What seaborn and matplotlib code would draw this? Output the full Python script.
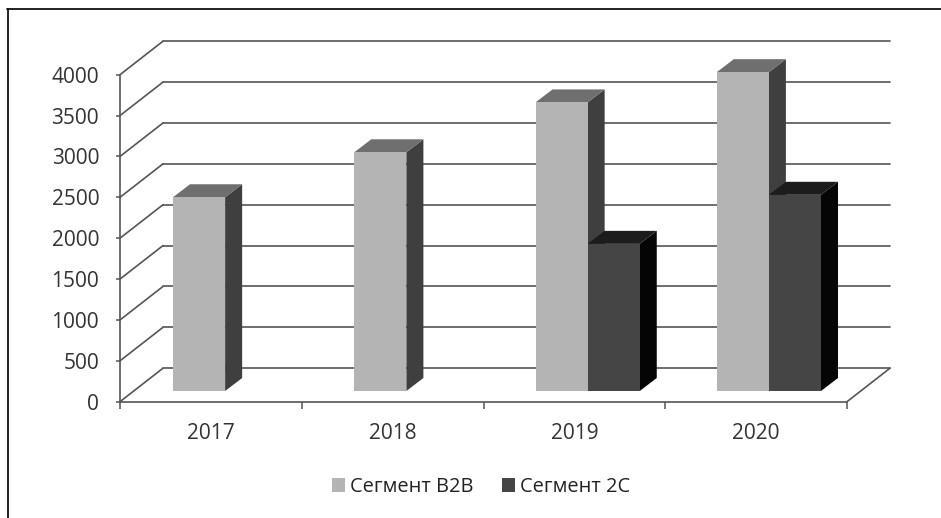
import numpy as np
import pandas as pd
import matplotlib
matplotlib.use("Agg")
import matplotlib.pyplot as plt
from matplotlib.lines import Line2D
from matplotlib.patches import Polygon
import seaborn as sns

years = ["2017", "2018", "2019", "2020"]
b2b = [2370, 2920, 3530, 3900]
b2c = [np.nan, np.nan, 1800, 2400]
series_names = ["Сегмент В2В", "Сегмент 2С"]
y_ticks = [0, 500, 1000, 1500, 2000, 2500, 3000, 3500, 4000]

front_colors = ["#b4b4b4", "#454545"]
side_colors = ["#3f3f3f", "#050505"]
top_colors = ["#6f6f6f", "#1c1c1c"]
line_color = "#555555"
text_color = "#333333"

W, H = 941, 518

sns.set_theme(style="white")
plt.rcParams["font.family"] = ["Open Sans", "DejaVu Sans"]

df = pd.DataFrame({
    "year": years * 2,
    "series": [series_names[0]] * 4 + [series_names[1]] * 4,
    "value": b2b + b2c,
})


def px_axes(fig, left, right, top, bottom):
    return fig.add_axes([left / W, 1 - bottom / H, (right - left) / W, (bottom - top) / H])


fig = plt.figure(figsize=(W / 100, H / 100), dpi=100, facecolor="white")

# Front plane: axes, ticks and the wire frame of the 3D box
ax_f = px_axes(fig, 120, 847, 74.7, 401.7)
ax_f.set_xlim(-0.5, 3.5)
ax_f.set_ylim(0, 4000)
ax_f.patch.set_visible(False)
for s in ("top", "right"):
    ax_f.spines[s].set_visible(False)
for s in ("left", "bottom"):
    ax_f.spines[s].set_color(line_color)
    ax_f.spines[s].set_linewidth(1.2)
ax_f.set_yticks(y_ticks)
ax_f.set_xticks(range(4))
ax_f.set_xticklabels(years)
ax_f.set_xticks(np.arange(-0.5, 4), minor=True)
ax_f.tick_params(axis="x", which="major", length=0, pad=15, labelsize=15, labelcolor=text_color)
ax_f.tick_params(axis="x", which="minor", length=5, width=1.1, color=line_color, direction="out", bottom=True)
ax_f.tick_params(axis="y", which="major", length=3, width=1.1, color=line_color, pad=12,
                 labelsize=15, labelcolor=text_color, left=True)

ppx = 4 / (847 - 120)            # categories per pixel
ppy = 4000 / (401.7 - 74.7)      # value per pixel
box_dx, box_dy = 43 * ppx, 33.5 * ppy
for v in y_ticks:
    ax_f.plot([-0.5, -0.5 + box_dx], [v, v + box_dy], color=line_color, lw=1.2, clip_on=False, zorder=1)
    ax_f.plot([-0.5 + box_dx, 3.5 + box_dx], [v + box_dy, v + box_dy], color=line_color, lw=1.2,
              clip_on=False, zorder=1)
ax_f.plot([3.5, 3.5 + box_dx], [0, box_dy], color=line_color, lw=1.2, clip_on=False, zorder=1)

# Bar plane, set back from the front plane
ax = px_axes(fig, 134.5, 859.5, 64, 391)
ax.patch.set_visible(False)
sns.barplot(data=df, x="year", y="value", hue="series", order=years, hue_order=series_names,
            palette=dict(zip(series_names, front_colors)), width=0.575, gap=0, saturation=1,
            linewidth=0, errorbar=None, ax=ax, zorder=3)
ax.set_xlim(-0.5, 3.5)
ax.set_ylim(0, 4000)

ddx = 17 / 181
ddy = 13 * 4000 / 327
for i, container in enumerate(ax.containers):
    for bar in container:
        h = bar.get_height()
        if not np.isfinite(h) or h <= 0:
            continue
        x0, x1 = bar.get_x(), bar.get_x() + bar.get_width()
        ax.add_patch(Polygon([(x1, 0), (x1 + ddx, ddy), (x1 + ddx, h + ddy), (x1, h)], closed=True,
                             facecolor=side_colors[i], edgecolor="none", clip_on=False, zorder=1 + i * 0.5))
        ax.add_patch(Polygon([(x0, h), (x0 + ddx, h + ddy), (x1 + ddx, h + ddy), (x1, h)], closed=True,
                             facecolor=top_colors[i], edgecolor="none", clip_on=False, zorder=1 + i * 0.5))

sns.move_legend(ax, loc="center", bbox_to_anchor=(0.5, 0.5), bbox_transform=fig.transFigure,
                ncol=2, frameon=False, title=None, fontsize=14.4, handlelength=0.65, handleheight=0.65,
                handletextpad=0.25, columnspacing=1.45)
leg = ax.get_legend()
leg.set_bbox_to_anchor((481 / W, 1 - 487 / H), transform=fig.transFigure)
for t in leg.get_texts():
    t.set_color("#222222")
ax.axis("off")

# Outer frame: left and top edges only
fig.add_artist(Line2D([7.5 / W, 7.5 / W], [0, 1 - 8.5 / H], color="#111111", lw=1.3))
fig.add_artist(Line2D([7 / W, 1], [1 - 8.5 / H, 1 - 8.5 / H], color="#111111", lw=1.3))

fig.savefig("out.png", dpi=100, facecolor="white")
